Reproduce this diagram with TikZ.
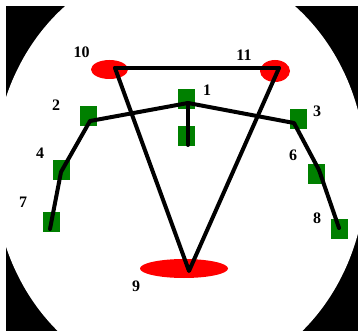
\documentclass[tikz,border=0pt]{standalone}
\usepackage{fontspec}
\setmainfont{Liberation Serif}
\usetikzlibrary{shapes.geometric,positioning}
\definecolor{jointgreen}{RGB}{0,128,0}
\tikzset{
  joint/.style={rectangle, fill=jointgreen, minimum width=17pt, minimum height=20pt, inner sep=0pt},
  blob/.style={ellipse, fill=red, inner sep=0pt},
  bone/.style={line width=4pt, black, line cap=round, line join=round},
  lbl/.style={font=\fontsize{16}{16}\selectfont\bfseries, inner sep=0pt},
}

\begin{document}
\begin{tikzpicture}[x=1pt,y=-1pt]
  \useasboundingbox (0,0) rectangle (358,331);
  % Dark frame with the bright oval
  \fill[black] (6,6) rectangle (358,331);
  \begin{scope}
    \clip (6,6) rectangle (358,331);
    \fill[white] (180,172) ellipse [x radius=186, y radius=211];
  \end{scope}

  % Red markers (hands and feet)
  \node[blob, minimum width=37pt, minimum height=19pt] (b10) at (109.5,69.5) {};
  \node[blob, minimum width=30pt, minimum height=22pt] (b11) at (275,71) {};
  \node[blob, minimum width=88pt, minimum height=19pt] (b9) at (184,268.5) {};

  % Green markers
  \node[joint] (s1)  at (186.5,99.5) {};
  \node[joint] (s1b) at (186.5,136.5) {};
  \node[joint] (s2)  at (88,116.5) {};
  \node[joint] (s3)  at (298,119) {};
  \node[joint] (s4)  at (61.5,169.5) {};
  \node[joint] (s6)  at (316.5,174) {};
  \node[joint] (s7)  at (51,221.5) {};
  \node[joint] (s8)  at (339,229) {};

  % Joint points of the skeleton
  \coordinate (c10) at (115,68);
  \coordinate (c11) at (279,68);
  \coordinate (c9)  at (189,271);
  \coordinate (c1)  at (188,103);
  \coordinate (c1b) at (188,145);
  \coordinate (c2)  at (90,121);
  \coordinate (c3)  at (294,123);
  \coordinate (c4)  at (61,172);
  \coordinate (c6)  at (319,170);
  \coordinate (c7)  at (50,229);
  \coordinate (c8)  at (339,228);

  % Skeleton
  \draw[bone] (c10) -- (c11);
  \draw[bone] (c10) -- (c9) -- (c11);
  \draw[bone] (c7) -- (c4) -- (c2) -- (c1) -- (c3) -- (c6) -- (c8);
  \draw[bone] (c1) -- (c1b);

  % Labels
  \node[lbl] (l10) at (81.5,52) {10};
  \node[lbl] (l11) at (244,55) {11};
  \node[lbl] (l1)  at (207,90) {1};
  \node[lbl] (l2)  at (56,105.5) {2};
  \node[lbl] (l3)  at (317,111) {3};
  \node[lbl] (l4)  at (40,153) {4};
  \node[lbl] (l6)  at (293,155.5) {6};
  \node[lbl] (l7)  at (23,202.5) {7};
  \node[lbl] (l8)  at (317,218.5) {8};
  \node[lbl] (l9)  at (136,286.5) {9};
\end{tikzpicture}
\end{document}
